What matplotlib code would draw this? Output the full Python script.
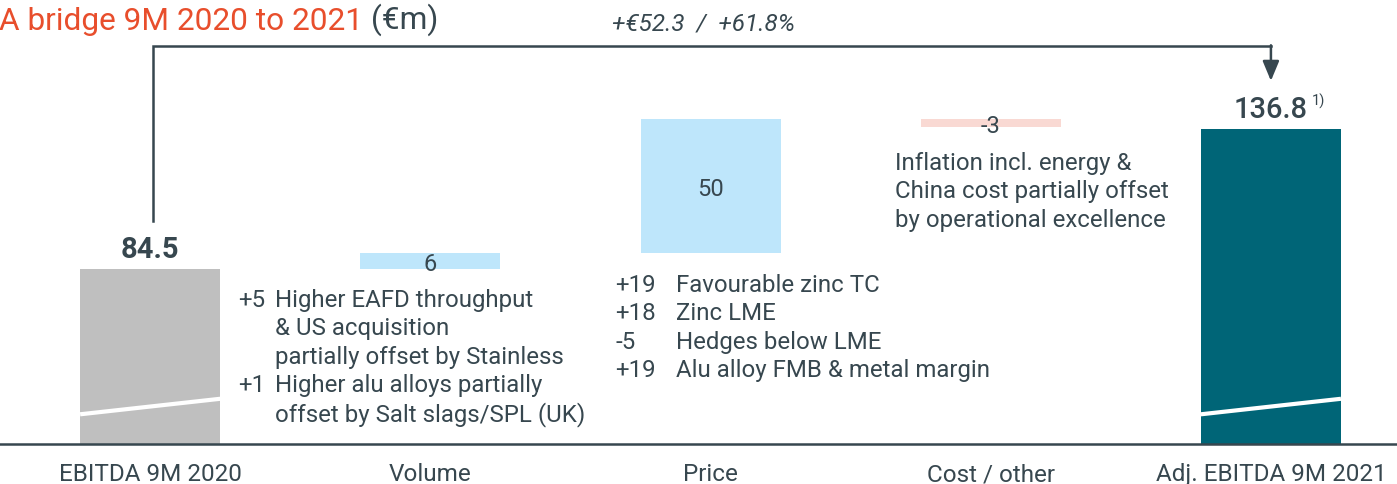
import matplotlib
matplotlib.use("Agg")
import matplotlib.pyplot as plt

# ---------------- data ----------------
categories = ["EBITDA 9M 2020", "Volume", "Price", "Cost / other", "Adj. EBITDA 9M 2021"]
start_value = 84.5
end_value = 136.8
deltas = [6, 50, -3]
delta_labels = ["6", "50", "-3"]
change_label = "+€52.3  /  +61.8%"
volume_notes = [("+5", ["Higher EAFD throughput", "& US acquisition", "partially offset by Stainless"]),
                ("+1", ["Higher alu alloys partially", "offset by Salt slags/SPL (UK)"])]
price_notes = [("+19", "Favourable zinc TC"), ("+18", "Zinc LME"),
               ("-5", "Hedges below LME"), ("+19", "Alu alloy FMB & metal margin")]
cost_notes = ["Inflation incl. energy &", "China cost partially offset", "by operational excellence"]
title_main = "A bridge 9M 2020 to 2021"
title_unit = " (€m)"

# ---------------- style ----------------
plt.rcParams['font.family'] = ['Roboto', 'DejaVu Sans']
TXT = '#37474f'
LINE = '#37474f'
RED = '#e84e2c'
GREY = '#bfbfbf'
BLUE = '#bee6fb'
PINK = '#f9d9d3'
TEAL = '#006577'

W, H = 1397, 485
fig = plt.figure(figsize=(W / 100, H / 100), dpi=100)
ax = fig.add_axes([0, 1 - 445 / H, 1, 445 / H])
ax.set_xlim(-0.536, 4.45)
ax.set_ylim(19.1, 185.4)

def fx(px):
    return px / W

def fy(py):
    return 1 - py / H

bw = 0.5
x = list(range(len(categories)))

# totals
ax.bar(x[0], start_value, width=bw, color=GREY, zorder=2)
ax.bar(x[-1], end_value, width=bw, color=TEAL, zorder=2)

# deltas
cum = start_value
delta_cols = [BLUE, BLUE, PINK]
for i, (d, lab, col) in enumerate(zip(deltas, delta_labels, delta_cols), start=1):
    bottom = cum if d >= 0 else cum + d
    ax.bar(x[i], abs(d), bottom=bottom, width=bw, color=col, zorder=2)
    ax.text(x[i], bottom + abs(d) / 2, lab, ha='center', va='center_baseline',
            fontsize=17, color=TXT, zorder=3)
    cum += d

# axis break marks
for xi in (x[0], x[-1]):
    ax.plot([xi - bw / 2, xi + bw / 2], [30.2, 36.0], color='white', lw=3,
            solid_capstyle='butt', zorder=3)

# total labels
ax.annotate(f"{start_value:.1f}", xy=(x[0], start_value), xytext=(0, 8.5),
            textcoords='offset points', ha='center', va='baseline',
            fontsize=21, fontweight='bold', color=TXT)
t_end = ax.annotate(f"{end_value:.1f}", xy=(x[-1], end_value), xytext=(0, 8.5),
                    textcoords='offset points', ha='center', va='baseline',
                    fontsize=21, fontweight='medium', color=TXT)
ax.annotate("1)", xy=(1, 1), xycoords=t_end, xytext=(3, 2), textcoords='offset points',
            ha='left', va='top', fontsize=10.5, color=TXT)

# bracket with arrow
ybr = 167.8
ax.plot([0.011, 0.011, x[-1]], [102.5, ybr, ybr], color=LINE, lw=1.8,
        solid_joinstyle='miter', zorder=1)
ax.annotate('', xy=(x[-1], 154.8), xytext=(x[-1], ybr + 0.3),
            arrowprops=dict(arrowstyle='-|>,head_length=0.6,head_width=0.25',
                            mutation_scale=20, color=LINE, lw=1.8,
                            shrinkA=0, shrinkB=0))
ax.text(1.975, 177.2, change_label, ha='center', va='center_baseline',
        fontsize=17.5, fontstyle='italic', color=TXT)

# notes
step = 28.5
fs_note = 17.3
row = 0
for num, lines in volume_notes:
    fig.text(fx(238), fy(298 + row * step), num, ha='left', va='center_baseline',
             fontsize=fs_note, color=TXT)
    for ln in lines:
        fig.text(fx(275), fy(298 + row * step), ln, ha='left', va='center_baseline',
                 fontsize=fs_note, color=TXT)
        row += 1
for r, (num, ln) in enumerate(price_notes):
    fig.text(fx(615), fy(283 + r * step), num, ha='left', va='center_baseline',
             fontsize=fs_note, color=TXT)
    fig.text(fx(676), fy(283 + r * step), ln, ha='left', va='center_baseline',
             fontsize=fs_note, color=TXT)
for r, ln in enumerate(cost_notes):
    fig.text(fx(895), fy(161 + r * step), ln, ha='left', va='center_baseline',
             fontsize=fs_note, color=TXT)

# title
t1 = fig.text(-0.001, fy(18), title_main, ha='left', va='center_baseline',
              fontsize=22.8, color=RED)
ax.annotate(title_unit, xy=(1, 0), xycoords=t1, ha='left', va='bottom',
            fontsize=22.8, color=TXT)

# axes styling
for s in ('top', 'right', 'left'):
    ax.spines[s].set_visible(False)
ax.spines['bottom'].set_color(LINE)
ax.spines['bottom'].set_linewidth(1.8)
ax.spines['bottom'].set_zorder(4)
ax.set_yticks([])
ax.set_xticks(x)
ax.set_xticklabels(categories, fontsize=17.5, color=TXT)
ax.tick_params(axis='x', length=0, pad=13)

fig.savefig("out.png", dpi=100)
